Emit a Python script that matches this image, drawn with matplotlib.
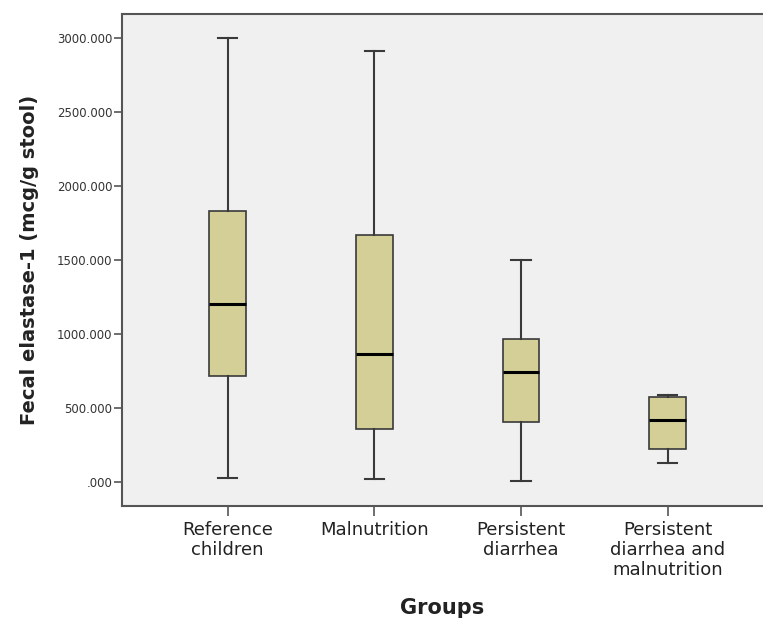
import matplotlib
matplotlib.use("Agg")
import matplotlib.pyplot as plt
from matplotlib.ticker import FuncFormatter

groups = ["Reference\nchildren", "Malnutrition", "Persistent\ndiarrhea",
          "Persistent\ndiarrhea and\nmalnutrition"]
whisker_low = [27, 18, 5, 126]
q1 = [714, 358, 405, 223]
median = [1206, 862, 743, 419]
q3 = [1834, 1672, 963, 574]
whisker_high = [3000, 2911, 1501, 590]

stats = []
for i in range(len(groups)):
    stats.append({"whislo": whisker_low[i], "q1": q1[i], "med": median[i],
                  "q3": q3[i], "whishi": whisker_high[i], "fliers": []})

fig = plt.figure(figsize=(7.63, 6.19), dpi=100)
ax = fig.add_axes([122 / 763, 113 / 619, 1 - 122 / 763, 492 / 619])
ax.set_facecolor("#f0f0f0")

line_col = "#3a3a3a"
ax.bxp(stats, positions=range(len(groups)), widths=0.25, patch_artist=True,
       showfliers=False,
       boxprops=dict(facecolor="#d3cf97", edgecolor=line_col, linewidth=1.2),
       medianprops=dict(color="#000000", linewidth=2.2),
       whiskerprops=dict(color=line_col, linewidth=1.5),
       capprops=dict(color=line_col, linewidth=1.5),
       capwidths=0.13)

ax.set_xlim(-0.72, 3.65)
ax.set_ylim(-162, 3162)
ax.set_yticks([0, 500, 1000, 1500, 2000, 2500, 3000])
ax.yaxis.set_major_formatter(FuncFormatter(
    lambda v, p: ".000" if v == 0 else "%.3f" % v))
ax.set_xticks(range(len(groups)))
ax.set_xticklabels(groups, fontsize=13, color="#222222", linespacing=1.12)
ax.tick_params(axis="y", labelsize=8.5, labelcolor="#333333", length=6,
               width=1.2, color="#555555", pad=1)
ax.tick_params(axis="x", length=7, width=1.2, color="#555555", pad=4)

for side in ["left", "bottom", "top"]:
    ax.spines[side].set_color("#555555")
    ax.spines[side].set_linewidth(1.5)
ax.spines["right"].set_visible(False)

ax.set_ylabel("Fecal elastase-1 (mcg/g stool)", fontsize=14,
              fontweight="bold", color="#222222", labelpad=13)
ax.set_xlabel("Groups", fontsize=15, fontweight="bold", color="#222222",
              labelpad=14)

fig.savefig("out.png", dpi=100)
